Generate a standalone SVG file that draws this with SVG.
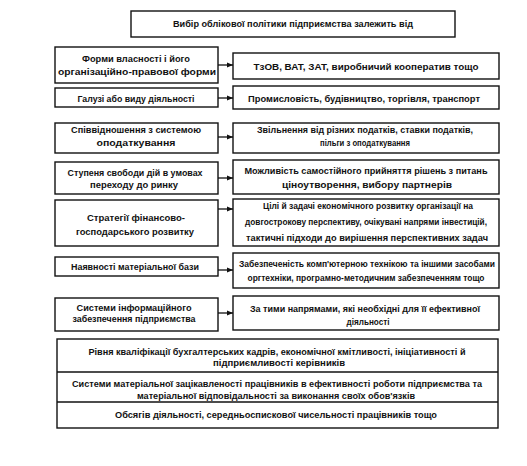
<svg xmlns="http://www.w3.org/2000/svg" width="527" height="466" viewBox="0 0 527 466">
<defs>
<marker id="ah" viewBox="0 0 10 10" refX="10" refY="5" markerWidth="6" markerHeight="6" markerUnits="userSpaceOnUse" orient="auto">
<path d="M0,1 L10,5 L0,9 Z" fill="#111"/>
</marker>
</defs>
<style>
rect{fill:#fff;stroke:#111;stroke-width:1.4}
line.div{stroke:#111;stroke-width:1.4}
.c{stroke:#111;stroke-width:1.3;fill:none}
text{font-family:"Liberation Sans","DejaVu Sans",sans-serif;font-size:9px;font-weight:bold;fill:#111;text-anchor:middle}
</style>
<rect x="0" y="0" width="527" height="466" style="fill:#fff;stroke:none"/>
<g id="title">
<rect x="131" y="11" width="324" height="26"/>
<text x="293" y="27" textLength="240" lengthAdjust="spacingAndGlyphs">Вибір облікової політики підприємства залежить від</text>
</g>
<g id="l1">
<rect x="55" y="47" width="163" height="36"/>
<text x="136" y="62" textLength="108" lengthAdjust="spacingAndGlyphs">Форми власності і його</text>
<text x="137" y="75" textLength="158" lengthAdjust="spacingAndGlyphs">організаційно-правової форми</text>
</g>
<g id="r1">
<rect x="233" y="53" width="266" height="26"/>
<text x="366" y="70" textLength="225" lengthAdjust="spacingAndGlyphs">ТзОВ, ВАТ, ЗАТ, виробничий кооператив тощо</text>
</g>
<g id="l2">
<rect x="55" y="88" width="163" height="19"/>
<text x="136" y="102" textLength="117" lengthAdjust="spacingAndGlyphs">Галузі або виду діяльності</text>
</g>
<g id="r2">
<rect x="233" y="86" width="266" height="23"/>
<text x="364" y="102" textLength="232" lengthAdjust="spacingAndGlyphs">Промисловість, будівництво, торгівля, транспорт</text>
</g>
<g id="l3">
<rect x="55" y="123" width="163" height="30"/>
<text x="136" y="133" textLength="130" lengthAdjust="spacingAndGlyphs">Співвідношення з системою</text>
<text x="136" y="146" textLength="79" lengthAdjust="spacingAndGlyphs">оподаткування</text>
</g>
<g id="r3">
<rect x="233" y="123" width="266" height="30"/>
<text x="365" y="133" textLength="216" lengthAdjust="spacingAndGlyphs">Звільнення від різних податків, ставки податків,</text>
<text x="365" y="146" textLength="90" lengthAdjust="spacingAndGlyphs">пільги з оподаткування</text>
</g>
<g id="l4">
<rect x="55" y="162" width="163" height="32"/>
<text x="135" y="176" textLength="135" lengthAdjust="spacingAndGlyphs">Ступеня свободи дій в умовах</text>
<text x="134" y="188" textLength="88" lengthAdjust="spacingAndGlyphs">переходу до ринку</text>
</g>
<g id="r4">
<rect x="233" y="160" width="266" height="34"/>
<text x="366" y="174" textLength="243" lengthAdjust="spacingAndGlyphs">Можливість самостійного прийняття рішень з питань</text>
<text x="367" y="188" textLength="170" lengthAdjust="spacingAndGlyphs">ціноутворення, вибору партнерів</text>
</g>
<g id="l5">
<rect x="55" y="200" width="163" height="46"/>
<text x="136" y="221" textLength="98" lengthAdjust="spacingAndGlyphs">Стратегії фінансово-</text>
<text x="135" y="235" textLength="118" lengthAdjust="spacingAndGlyphs">господарського розвитку</text>
</g>
<g id="r5">
<rect x="233" y="199" width="266" height="47"/>
<text x="368" y="209" textLength="210" lengthAdjust="spacingAndGlyphs">Цілі й задачі економічного розвитку організації на</text>
<text x="366" y="225" textLength="242" lengthAdjust="spacingAndGlyphs">довгострокову перспективу, очікувані напрями інвестицій,</text>
<text x="367" y="241" textLength="242" lengthAdjust="spacingAndGlyphs">тактичні підходи до вирішення перспективних задач</text>
</g>
<g id="l6">
<rect x="55" y="257" width="163" height="19"/>
<text x="135" y="270" textLength="128" lengthAdjust="spacingAndGlyphs">Наявності матеріальної бази</text>
</g>
<g id="r6">
<rect x="233" y="253" width="266" height="35"/>
<text x="367" y="267" textLength="256" lengthAdjust="spacingAndGlyphs">Забезпеченість комп'ютерною технікою та іншими засобами</text>
<text x="366" y="281" textLength="237" lengthAdjust="spacingAndGlyphs">оргтехніки, програмно-методичним забезпеченням тощо</text>
</g>
<g id="l7">
<rect x="55" y="298" width="163" height="33"/>
<text x="134" y="311" textLength="115" lengthAdjust="spacingAndGlyphs">Системи інформаційного</text>
<text x="134" y="322" textLength="123" lengthAdjust="spacingAndGlyphs">забезпечення підприємства</text>
</g>
<g id="r7">
<rect x="233" y="296" width="266" height="34"/>
<text x="365" y="312" textLength="230" lengthAdjust="spacingAndGlyphs">За тими напрямами, які необхідні для її ефективної</text>
<text x="368" y="325" textLength="43" lengthAdjust="spacingAndGlyphs">діяльності</text>
</g>
<g id="bottom">
<rect x="57" y="339" width="441" height="89"/>
<line class="div" x1="57" y1="372" x2="498" y2="372"/>
<line class="div" x1="57" y1="402" x2="498" y2="402"/>
<text x="277" y="355" textLength="377" lengthAdjust="spacingAndGlyphs">Рівня кваліфікації бухгалтерських кадрів, економічної кмітливості, ініціативності й</text>
<text x="279" y="366" textLength="132" lengthAdjust="spacingAndGlyphs">підприємливості керівників</text>
<text x="277" y="387" textLength="410" lengthAdjust="spacingAndGlyphs">Системи матеріальної зацікавленості працівників в ефективності роботи підприємства та</text>
<text x="276" y="399" textLength="278" lengthAdjust="spacingAndGlyphs">матеріальної відповідальності за виконання своїх обов'язків</text>
<text x="276" y="418" textLength="322" lengthAdjust="spacingAndGlyphs">Обсягів діяльності, середньоспискової чисельності працівників тощо</text>
</g>
<g id="connectors">
<line class="c" x1="218" y1="65" x2="233" y2="65" marker-end="url(#ah)"/>
<line class="c" x1="218" y1="98" x2="233" y2="98" marker-end="url(#ah)"/>
<line class="c" x1="218" y1="137" x2="233" y2="137" marker-end="url(#ah)"/>
<line class="c" x1="218" y1="178" x2="233" y2="178" marker-end="url(#ah)"/>
<line class="c" x1="218" y1="209" x2="233" y2="209" marker-end="url(#ah)"/>
<line class="c" x1="218" y1="270" x2="233" y2="270" marker-end="url(#ah)"/>
<line class="c" x1="218" y1="313" x2="233" y2="313" marker-end="url(#ah)"/>
</g>
</svg>
